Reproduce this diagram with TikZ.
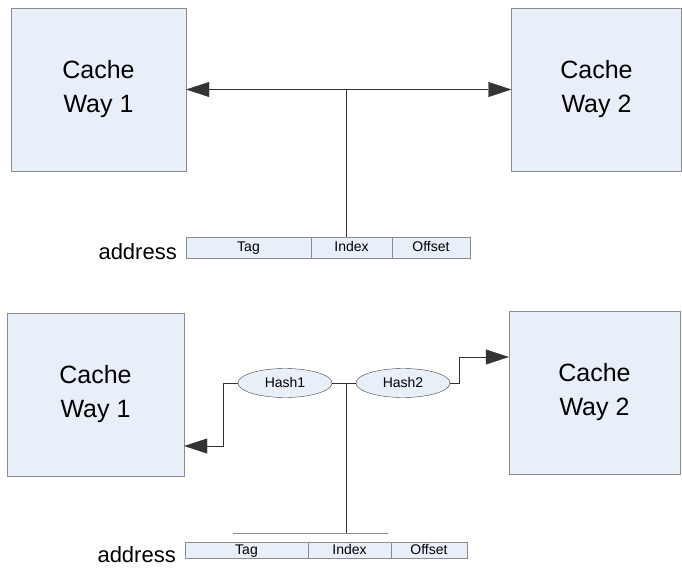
\documentclass[tikz,border=0pt]{standalone}
\usepackage{fontspec}
\setmainfont{Liberation Sans}
\usepackage{xcolor}
\usepackage{tikz}
\usetikzlibrary{arrows.meta, positioning, shapes.geometric}

\definecolor{wayfill}{HTML}{E9EFF8}
\definecolor{edgegray}{HTML}{8C8C8C}

\begin{document}
\begin{tikzpicture}[
  x=1pt, y=-1pt,
  way/.style={draw=edgegray, fill=wayfill, align=center, minimum height=163pt, font=\fontsize{25}{34}\selectfont},
  field/.style={draw=edgegray, fill=wayfill, outer sep=0pt, inner sep=0pt, text height=10pt, text depth=2pt, font=\fontsize{14}{16}\selectfont},
  hash/.style={ellipse, draw=black!75, fill=wayfill, minimum width=94pt, minimum height=29pt, inner sep=0pt, text height=10pt, text depth=1pt, font=\fontsize{14}{16}\selectfont},
  addr/.style={font=\fontsize{22}{24}\selectfont, inner sep=0pt},
  arrow/.style={draw=black!80, -{Triangle[length=23pt, width=15pt]}},
  wire/.style={draw=black!80}
]
\useasboundingbox (0,0) rectangle (682,567);

% upper picture: plain two-way cache
\node[way, minimum width=175pt] (wayA) at (98.5,89.5) {Cache\\Way 1};
\node[way, minimum width=170pt] (wayB) at (596.5,89.5) {Cache\\Way 2};
\node[field, minimum width=125pt, minimum height=21pt, anchor=north west] (tagA) at (186,237) {Tag};
\node[field, minimum width=81pt, minimum height=21pt, right=0pt of tagA] (indexA) {Index};
\node[field, minimum width=78pt, minimum height=21pt, right=0pt of indexA] (offsetA) {Offset};
\node[addr, anchor=base east] (addrA) at (177,259) {address};
\coordinate (jtop) at (346,89.5);
\draw[wire] (jtop) -- (jtop |- tagA.north);
\draw[arrow] (jtop) -- (wayA.east);
\draw[arrow] (jtop) -- (wayB.west);

% lower picture: skewed cache with hash functions
\node[way, minimum width=177pt] (wayC) at (95.5,394.5) {Cache\\Way 1};
\node[way, minimum width=171pt] (wayD) at (594.5,392.5) {Cache\\Way 2};
\node[hash] (hash1) at (285,383) {Hash1};
\node[hash] (hash2) at (403,383) {Hash2};
\node[field, minimum width=123pt, minimum height=16pt, anchor=north west] (tagB) at (185,542) {Tag};
\node[field, minimum width=83pt, minimum height=16pt, right=0pt of tagB] (indexB) {Index};
\node[field, minimum width=76pt, minimum height=16pt, right=0pt of indexB] (offsetB) {Offset};
\node[addr, anchor=base east] (addrB) at (176,562) {address};
\coordinate (jbot) at (346,383);
\coordinate (busL) at (233,533);
\coordinate (busR) at (388,533);
\draw[draw=edgegray, line width=0.8pt] (busL) -- (busR);
\draw[wire] (jbot) -- (jbot |- busL);
\draw[wire] (hash1) -- (hash2);
\draw[arrow] (hash1.west) -- ++(-15,0) |- ([yshift=-51.5pt]wayC.east);
\draw[arrow] (hash2.east) -- ++(9,0) |- ([yshift=35.5pt]wayD.west);
\end{tikzpicture}
\end{document}
